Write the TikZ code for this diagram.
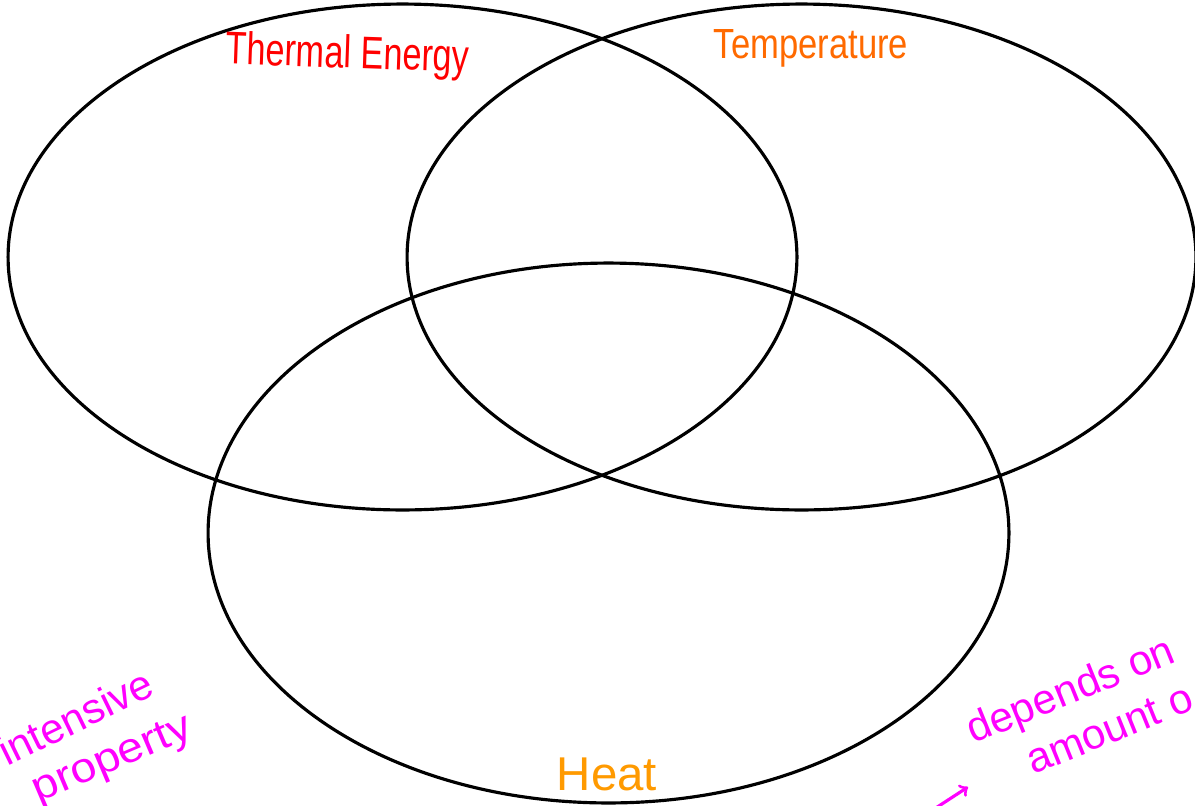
\documentclass[tikz,border=0pt]{standalone}
\usepackage{fontspec}
\setmainfont{Liberation Sans}
\usetikzlibrary{shapes.geometric}
\definecolor{thermred}{HTML}{FF0000}
\definecolor{temporange}{HTML}{FF6A00}
\definecolor{heatorange}{HTML}{FF9A00}
\definecolor{notepink}{HTML}{FF00FF}
\tikzset{
  venn/.style={ellipse, draw=black, line width=1.8pt, inner sep=0pt, outer sep=0pt},
  title/.style={inner sep=0pt, anchor=base},
  note/.style={text=notepink, inner sep=0pt, anchor=base west, font=\fontsize{24}{26}\selectfont},
}
\begin{document}
\begin{tikzpicture}[x=0.02cm, y=-0.02cm]
\clip (0,0) rectangle (1195,805);
\fill[white] (0,0) rectangle (1195,805);
\node[venn, minimum width=15.78cm, minimum height=10.12cm] (thermal) at (402.5,257) {};
\node[venn, minimum width=15.78cm, minimum height=10.12cm] (temp) at (801.5,257) {};
\node[venn, minimum width=16.02cm, minimum height=10.8cm] (heat) at (608.5,533) {};
\node[title, text=thermred, rotate=-2, font=\fontsize{26}{30}\selectfont] (thermallabel) at (347,68) {\scalebox{0.75}[1]{Thermal Energy}};
\node[title, text=temporange, font=\fontsize{24}{28}\selectfont] (templabel) at (811,58) {\scalebox{0.82}[1]{Temperature}};
\node[title, text=heatorange, font=\fontsize{27}{30}\selectfont] (heatlabel) at (607,790) {Heat};
\node[note, rotate=26] (intensive) at (7,767) {intensive};
\node[note, rotate=23] (property) at (38,803) {\scalebox{1.1}[1]{property}};
\node[note, rotate=22] (depends) at (973,744) {depends on};
\node[note, rotate=22] (amount) at (1033,775) {amount o};
\coordinate (arrtail) at (925,815);
\coordinate (arrtip) at (968,787);
\draw[notepink, line width=1.8pt, line cap=round, ->] (arrtail) -- (arrtip);
\end{tikzpicture}
\end{document}
